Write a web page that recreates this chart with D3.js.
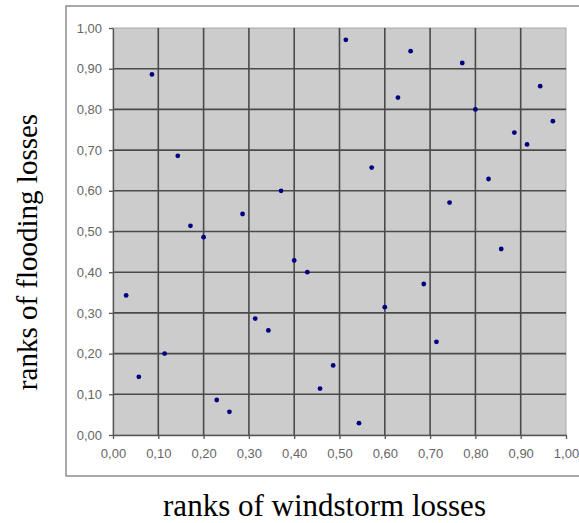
<!DOCTYPE html>
<html><head><meta charset="utf-8">
<script src="https://cdn.jsdelivr.net/npm/d3@7"></script>
<style>html,body{margin:0;padding:0;background:#fff;}svg{display:block;}</style>
</head><body>
<script>
// Data: ranks (windstorm, flooding)
const windRanks = [0.029,0.057,0.086,0.114,0.143,0.171,0.200,0.229,0.257,0.286,0.314,0.343,0.371,0.400,0.429,0.457,0.486,0.514,0.543,0.571,0.600,0.629,0.657,0.686,0.714,0.743,0.771,0.800,0.829,0.857,0.886,0.914,0.943,0.971];
const floodRanks = [0.343,0.143,0.886,0.200,0.686,0.514,0.486,0.086,0.057,0.543,0.286,0.257,0.600,0.429,0.400,0.114,0.171,0.971,0.029,0.657,0.314,0.829,0.943,0.371,0.229,0.571,0.914,0.800,0.629,0.457,0.743,0.714,0.857,0.771];
const tickValues = [0,0.1,0.2,0.3,0.4,0.5,0.6,0.7,0.8,0.9,1.0];
const xTitle = "ranks of windstorm losses";
const yTitle = "ranks of flooding losses";

const W = 579, H = 523;
const svg = d3.select("body").append("svg").attr("width", W).attr("height", H);
const L = 113, R = 566, T = 28, B = 435;
const x = d3.scaleLinear().domain([0,1]).range([L,R]);
const y = d3.scaleLinear().domain([0,1]).range([B,T]);
const fmt = d => d3.format(".2f")(d).replace(".", ",");

// outer chart border
svg.append("rect").attr("x",66).attr("y",6).attr("width",W).attr("height",470)
  .attr("fill","#fff").attr("stroke","#8c8c8c").attr("stroke-width",1.5);

// plot area
svg.append("rect").attr("x",L).attr("y",T).attr("width",R-L).attr("height",B-T)
  .attr("fill","#cccccc").attr("stroke","#a8a8a8").attr("stroke-width",1);

// gridlines
const g = svg.append("g");
g.selectAll(".vg").data(tickValues.filter(d=>d>0 && d<1)).enter().append("line")
  .attr("x1",d=>x(d)).attr("x2",d=>x(d)).attr("y1",T).attr("y2",B)
  .attr("stroke","#4a4a4a").attr("stroke-width",1.6);
g.selectAll(".hg").data(tickValues.filter(d=>d>0 && d<1)).enter().append("line")
  .attr("y1",d=>y(d)).attr("y2",d=>y(d)).attr("x1",L).attr("x2",R)
  .attr("stroke","#4a4a4a").attr("stroke-width",1.6);

// axes
const xa = svg.append("g").attr("transform",`translate(0,${B})`)
  .call(d3.axisBottom(x).tickValues(tickValues).tickFormat(fmt).tickSizeInner(4).tickSizeOuter(0).tickPadding(10));
const ya = svg.append("g").attr("transform",`translate(${L},0)`)
  .call(d3.axisLeft(y).tickValues(tickValues).tickFormat(fmt).tickSizeInner(4).tickSizeOuter(0).tickPadding(7));
[xa,ya].forEach(a=>{
  a.select(".domain").attr("stroke","#555").attr("stroke-width",1.3);
  a.selectAll(".tick line").attr("stroke","#555").attr("stroke-width",1.3);
  a.selectAll(".tick text").attr("fill","#666").attr("font-family","'Liberation Sans', Arial, sans-serif").attr("font-size","13px");
});

// points
svg.append("g").selectAll("circle").data(windRanks.map((w,i)=>[w,floodRanks[i]])).enter()
  .append("circle").attr("cx",d=>x(d[0])).attr("cy",d=>y(d[1])).attr("r",2.4).attr("fill","#000080");

// titles
svg.append("text").attr("x",324.5).attr("y",516).attr("text-anchor","middle")
  .attr("font-family","'Liberation Serif', 'Times New Roman', serif").attr("font-size","31px").attr("fill","#000")
  .text(xTitle);
svg.append("text").attr("transform","translate(36.5,252) rotate(-90)").attr("text-anchor","middle")
  .attr("font-family","'Liberation Serif', 'Times New Roman', serif").attr("font-size","29px").attr("fill","#000")
  .text(yTitle);
</script>
</body></html>
